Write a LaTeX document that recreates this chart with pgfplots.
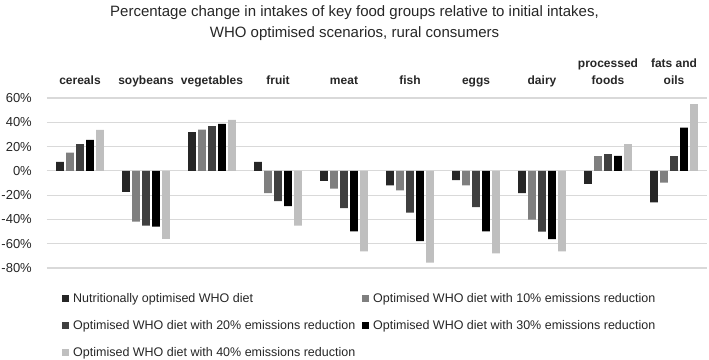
\documentclass[border=0pt]{standalone}
\usepackage{pgfplots}
\usepackage{pgfplotstable}
\pgfplotsset{compat=1.18}
\usepackage{fontspec}
\setmainfont{Liberation Sans}
\definecolor{sA}{HTML}{262626}
\definecolor{sB}{HTML}{7F7F7F}
\definecolor{sC}{HTML}{404040}
\definecolor{sD}{HTML}{000000}
\definecolor{sE}{HTML}{BFBFBF}
\definecolor{gridc}{HTML}{D9D9D9}
\definecolor{txt}{HTML}{262626}

\pgfplotstableread{
x s1 s2 s3 s4 s5
0 7.5 15 22 25.5 33.7
1 -17.4 -41.8 -45 -46 -56
2 31.8 34 36.8 38.7 42
3 7.5 -18.3 -24.9 -29 -45
4 -8.3 -14.7 -30.7 -49.8 -66.4
5 -11.9 -16 -34.3 -57.8 -75.5
6 -7.7 -11.9 -29.9 -49.8 -68
7 -18.3 -40.1 -50 -56.2 -66.4
8 -10.8 12.2 13.8 12.4 22.1
9 -26 -9.7 12.2 35.7 55
}\data

\begin{document}
\begin{tikzpicture}
\path[use as bounding box] (-47pt,-91pt) rectangle (662pt,268pt);
\begin{axis}[
  scale only axis, width=660pt, height=170pt,
  at={(0,0)}, anchor=south west,
  xmin=-0.5, xmax=9.5, ymin=-80, ymax=60,
  ybar=2.3pt, bar width=7.7pt,
  axis line style={draw=none},
  major tick length=0pt,
  ymajorgrids, grid style={draw=gridc, line width=1.1pt},
  xtick={0,...,9},
  xticklabels={cereals,soybeans,vegetables,fruit,meat,fish,eggs,dairy,{processed\\foods},{fats and\\oils}},
  xticklabel pos=upper,
  xticklabel style={font=\fontsize{12}{17}\selectfont\bfseries, text=txt, align=center, anchor=base, yshift=13pt, inner sep=0pt},
  ytick={-80,-60,-40,-20,0,20,40,60},
  yticklabels={-80\%,-60\%,-40\%,-20\%,0\%,20\%,40\%,60\%},
  yticklabel style={font=\fontsize{13}{15}\selectfont, text=txt, anchor=east, inner sep=0pt, xshift=-15pt},
  every axis plot/.append style={draw=none, legend image code/.code={\fill[##1] (0pt,-3.5pt) rectangle (7pt,3.5pt);}},
  legend columns=2,
  legend style={at={(axis description cs:0,0)}, anchor=north west, xshift=15pt, yshift=-23pt,
    draw=none, fill=none, inner sep=0pt, font=\fontsize{12.5}{15}\selectfont, text=txt,
    row sep=12.5pt, /tikz/every odd column/.append style={column sep=2pt},
    /tikz/every even column/.append style={column sep=5pt},
    cells={anchor=west}},
]
\addplot[fill=sA] table[x=x,y=s1]{\data};
\addplot[fill=sB] table[x=x,y=s2]{\data};
\addplot[fill=sC] table[x=x,y=s3]{\data};
\addplot[fill=sD] table[x=x,y=s4]{\data};
\addplot[fill=sE] table[x=x,y=s5]{\data};
\legend{Nutritionally optimised WHO diet,
Optimised WHO diet with 10\% emissions reduction,
Optimised WHO diet with 20\% emissions reduction,
Optimised WHO diet with 30\% emissions reduction,
Optimised WHO diet with 40\% emissions reduction}
\end{axis}
\node[anchor=base, text=txt, font=\fontsize{15}{20}\selectfont] at (307.5pt,251pt) {Percentage change in intakes of key food groups relative to initial intakes,};
\node[anchor=base, text=txt, font=\fontsize{15}{20}\selectfont] at (307.5pt,230.5pt) {WHO optimised scenarios, rural consumers};
\end{tikzpicture}
\end{document}
